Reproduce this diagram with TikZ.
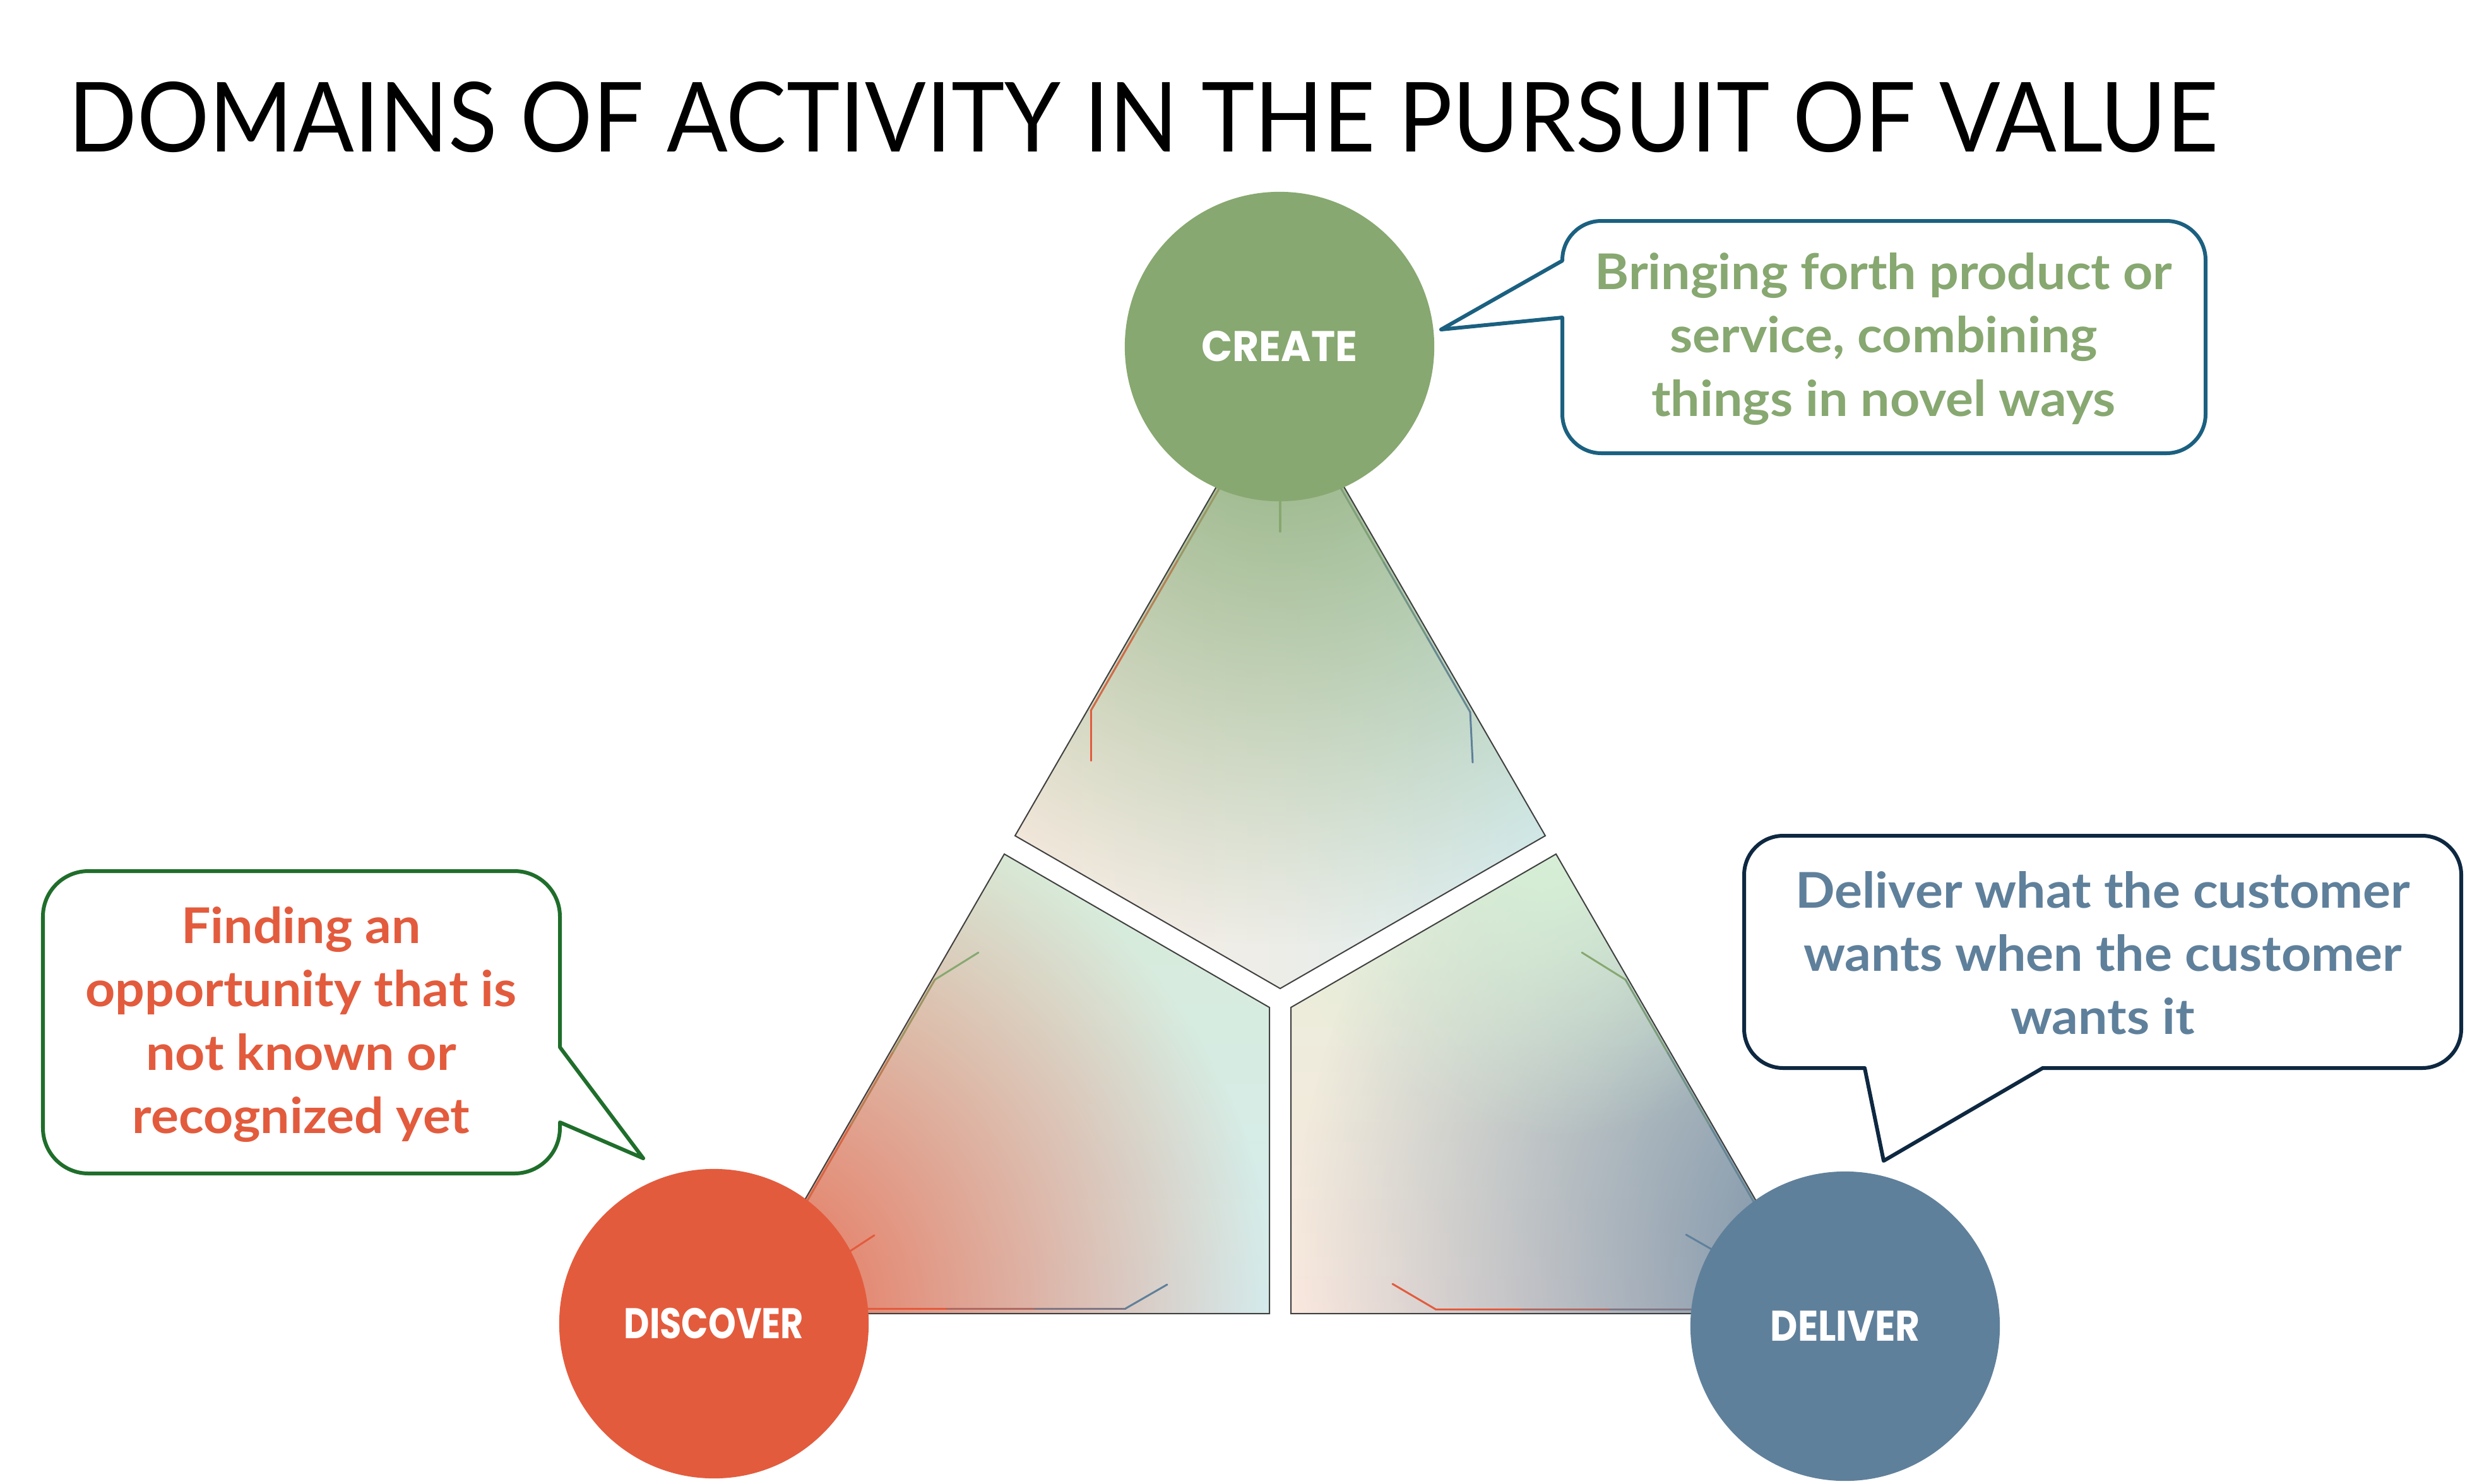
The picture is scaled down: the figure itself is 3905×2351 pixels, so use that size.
\documentclass[tikz,border=0pt]{standalone}
\usepackage{fontspec}
\usetikzlibrary{fadings}
\setmainfont{Lato}
\newfontfamily\titlefont{Lato}
\newfontfamily\callfont{Lato}[FakeStretch=1.055]
\newfontfamily\circfont{Poppins}
\definecolor{cgreen}{HTML}{87A870}
\definecolor{cred}{HTML}{E35B3D}
\definecolor{cslate}{HTML}{5F809B}
\definecolor{bordcreate}{HTML}{1B6080}
\definecolor{borddisc}{HTML}{1F6E2B}
\definecolor{borddel}{HTML}{0E2841}
\definecolor{peach}{HTML}{F9EBE1}
\definecolor{cyanl}{HTML}{D5ECEF}
\definecolor{greyl}{HTML}{EDEDE8}
\definecolor{greentop}{HTML}{8FB07E}
\definecolor{greenl}{HTML}{D8EBD8}
\definecolor{cyanb}{HTML}{D4EDEF}
\definecolor{redfill}{HTML}{E96E51}
\definecolor{slatefill}{HTML}{6A87A1}
\definecolor{greenr}{HTML}{E6EEDA}
\definecolor{greenc}{HTML}{D6EFD6}
\definecolor{peachr}{HTML}{FAE8DE}
\definecolor{outlinec}{HTML}{404040}
\tikzfading[name=faderad, inner color=transparent!0, outer color=transparent!100]
\begin{document}
\begin{tikzpicture}[x=0.01cm, y=-0.01cm,
  piece/.style={draw=outlinec, line width=0.02cm, line join=miter},
  seg/.style={line width=0.03cm, line cap=round},
  domcircle/.style={circle, minimum size=4.9cm, inner sep=0pt, text=white,
    font=\circfont\bfseries\fontsize{19.3}{23}\selectfont},
  callout/.style={line width=0.06cm, line join=round, fill=white},
  callouttext/.style={align=center, inner sep=0pt,
    font=\callfont\bfseries\fontsize{22.2}{28.45}\selectfont}]
\path[use as bounding box, fill=white] (0,0) rectangle (3905,2351);

% title
\node[anchor=south west, inner sep=0pt] (title) at (108,243)
  {\resizebox{34.03cm}{1.11cm}{\titlefont DOMAINS OF ACTIVITY IN THE PURSUIT OF VALUE}};

% top piece
\shade[left color=peach, right color=cyanl, middle color=greyl]
  (2028,596) -- (1608,1324) -- (2028,1566) -- (2448,1324) -- cycle;
\begin{scope}
  \clip (2028,596) -- (1608,1324) -- (2028,1566) -- (2448,1324) -- cycle;
  \fill[greentop, path fading=faderad] (2028,596) circle (900);
\end{scope}
\draw[piece] (2028,596) -- (1608,1324) -- (2028,1566) -- (2448,1324) -- cycle;

% left piece
\shade[top color=greenl, bottom color=cyanb]
  (1591,1353) -- (2011,1596) -- (2011,2081) -- (1171,2081) -- cycle;
\begin{scope}
  \clip (1591,1353) -- (2011,1596) -- (2011,2081) -- (1171,2081) -- cycle;
  \fill[redfill, path fading=faderad] (1171,2081) circle (850);
\end{scope}
\draw[piece] (1591,1353) -- (2011,1596) -- (2011,2081) -- (1171,2081) -- cycle;

% right piece
\shade[top color=greenr, bottom color=peachr]
  (2465,1353) -- (2045,1596) -- (2045,2081) -- (2885,2081) -- cycle;
\begin{scope}
  \clip (2465,1353) -- (2045,1596) -- (2045,2081) -- (2885,2081) -- cycle;
  \fill[slatefill, path fading=faderad] (3000,2000) ellipse [x radius=950, y radius=1050];
  \fill[greenc, path fading=faderad] (2465,1353) circle (450);
\end{scope}
\draw[piece] (2465,1353) -- (2045,1596) -- (2045,2081) -- (2885,2081) -- cycle;

% inner lines
\draw[seg, cgreen, line width=0.035cm] (2028,780) -- (2028,842);
\draw[seg, cgreen!80!cred] (1950,742) -- (1865,889);
\draw[seg, cgreen!50!cred] (1865,889) -- (1796,1008);
\draw[seg, cgreen!20!cred] (1796,1008) -- (1728,1126);
\draw[seg, cred] (1728,1126) -- (1728,1205);
\draw[seg, cgreen!80!cslate] (2106,742) -- (2192,891);
\draw[seg, cgreen!50!cslate] (2192,891) -- (2261,1010);
\draw[seg, cgreen!20!cslate] (2261,1010) -- (2329,1128);
\draw[seg, cslate] (2329,1128) -- (2333,1208);
\draw[seg, cgreen] (1550,1509) -- (1481,1552);
\draw[seg, cgreen!75!cred] (1481,1552) -- (1414,1668);
\draw[seg, cgreen!45!cred] (1414,1668) -- (1347,1784);
\draw[seg, cgreen!15!cred] (1347,1784) -- (1260,1935);
\draw[seg, cgreen] (2506,1509) -- (2575,1552);
\draw[seg, cgreen!75!cslate] (2575,1552) -- (2642,1668);
\draw[seg, cgreen!45!cslate] (2642,1668) -- (2709,1784);
\draw[seg, cgreen!15!cslate] (2709,1784) -- (2796,1935);
\draw[seg, cred] (1330,1993) -- (1385,1957);
\draw[seg, cred] (1360,2073) -- (1500,2073);
\draw[seg, cred!60!cslate] (1500,2073) -- (1640,2073);
\draw[seg, cred!25!cslate] (1640,2073) -- (1783,2073);
\draw[seg, cslate] (1783,2073) -- (1849,2035);
\draw[seg, cred] (2206,2034) -- (2274,2074);
\draw[seg, cred] (2274,2074) -- (2410,2074);
\draw[seg, cred!60!cslate] (2410,2074) -- (2550,2074);
\draw[seg, cred!25!cslate] (2550,2074) -- (2700,2074);
\draw[seg, cslate] (2671,1956) -- (2720,1984);

% domain circles
\node[domcircle, fill=cgreen] (create) at (2027,549) {\scalebox{0.95}[1]{CREATE}};
\node[domcircle, fill=cred] (discover) at (1131,2097) {\scalebox{0.82}[1]{DISCOVER}};
\node[domcircle, fill=cslate] (deliver) at (2923,2101) {\scalebox{0.88}[1]{DELIVER}};

% callouts
\draw[callout, draw=bordcreate] (2475,413) -- (2475,412)
  arc[start angle=180, end angle=270, radius=62] -- (3432,350)
  arc[start angle=270, end angle=360, radius=62] -- (3494,656)
  arc[start angle=0, end angle=90, radius=62] -- (2537,718)
  arc[start angle=90, end angle=180, radius=62] -- (2475,503)
  -- (2283,522) -- cycle;
\node[callouttext, text=cgreen] (createtext) at (2984,537)
  {Bringing forth product or\\service, combining\\things in novel ways};

\draw[callout, draw=borddisc] (140,1380) -- (815,1380)
  arc[start angle=270, end angle=360, radius=72] -- (887,1659)
  -- (1019,1835) -- (887,1778) -- (887,1787)
  arc[start angle=0, end angle=90, radius=72] -- (140,1859)
  arc[start angle=90, end angle=180, radius=72] -- (68,1452)
  arc[start angle=180, end angle=270, radius=72] -- cycle;
\node[callouttext, text=cred] (discovertext) at (477,1623)
  {Finding an\\opportunity that is\\not known or\\recognized yet};

\draw[callout, draw=borddel] (2825,1324) -- (3837,1324)
  arc[start angle=270, end angle=360, radius=62] -- (3899,1630)
  arc[start angle=0, end angle=90, radius=62] -- (3236,1692)
  -- (2984,1839) -- (2954,1692) -- (2825,1692)
  arc[start angle=90, end angle=180, radius=62] -- (2763,1386)
  arc[start angle=180, end angle=270, radius=62] -- cycle;
\node[callouttext, text=cslate] (delivertext) at (3331,1510)
  {Deliver what the customer\\wants when the customer\\wants it};
\end{tikzpicture}
\end{document}
